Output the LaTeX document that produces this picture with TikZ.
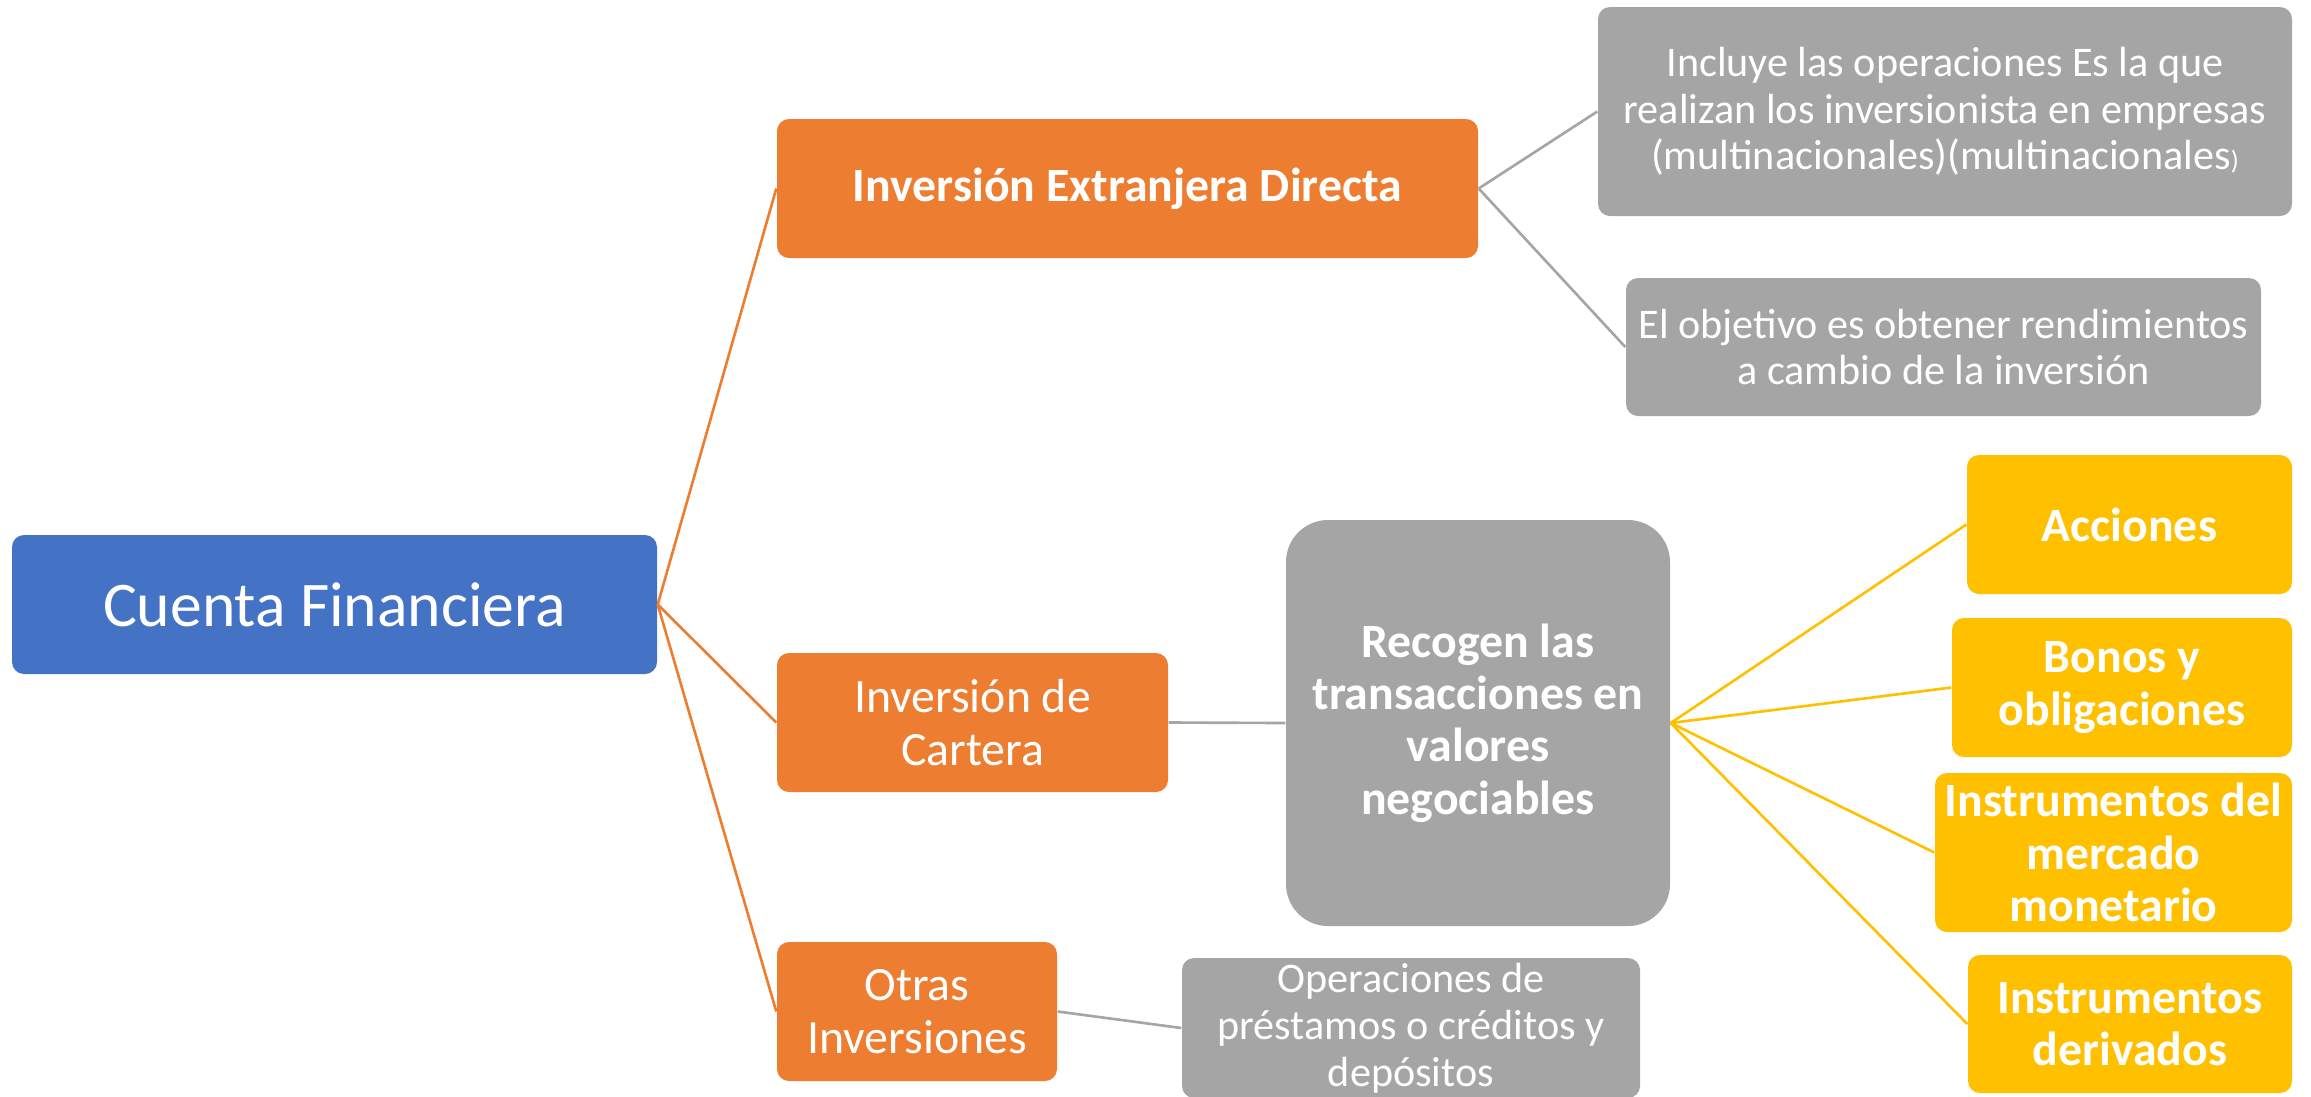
\documentclass[tikz,border=0pt]{standalone}
\usepackage{fontspec}
\setmainfont{Carlito}
\definecolor{azul}{HTML}{4472C4}
\definecolor{naranja}{HTML}{ED7D31}
\definecolor{gris}{HTML}{A5A5A5}
\definecolor{amarillo}{HTML}{FFC000}
\newcommand{\fgrande}{\fontsize{18.1}{21.8}\selectfont}
\newcommand{\fmedio}{\fontsize{13.6}{14.9}\selectfont}
\newcommand{\fchico}{\fontsize{12}{13.3}\selectfont}
\tikzset{
  caja/.style={rectangle, rounded corners=0.12cm, text=white, align=center, inner sep=1pt},
  raiz/.style={caja, fill=azul, font=\fgrande},
  rama/.style={caja, fill=naranja, font=\fmedio},
  nota/.style={caja, fill=gris, font=\fchico},
  hoja/.style={caja, fill=amarillo, font=\fmedio\bfseries},
  lazo/.style={line width=0.75pt}
}
\begin{document}
\begin{tikzpicture}
\useasboundingbox (0,0) rectangle (23.11,-10.96);
% raiz
\node[raiz, minimum width=6.45cm, minimum height=1.39cm] (cuenta) at (3.345,-6.045) {Cuenta Financiera};
% ramas
\node[rama, minimum width=7.01cm, minimum height=1.39cm, font=\fmedio\bfseries] (ied) at (11.275,-1.885) {Inversión Extranjera Directa};
\node[rama, minimum width=3.91cm, minimum height=1.39cm] (cartera) at (9.725,-7.225) {Inversión de\\Cartera};
\node[rama, minimum width=2.80cm, minimum height=1.39cm] (otras) at (9.17,-10.115) {Otras\\Inversiones};
% notas grises
\node[nota, minimum width=6.94cm, minimum height=2.09cm] (incluye) at (19.45,-1.115) {Incluye las operaciones Es la que\\realizan los inversionista en empresas\\(multinacionales)(multinacionales{\fontsize{7.5}{8}\selectfont)}};
\node[nota, minimum width=6.35cm, minimum height=1.38cm] (objetivo) at (19.435,-3.47) {El objetivo es obtener rendimientos\\a cambio de la inversión};
\node[nota, minimum width=3.84cm, minimum height=4.06cm, rounded corners=0.42cm, font=\fmedio\bfseries] (recogen) at (14.78,-7.23) {Recogen las\\transacciones en\\valores\\negociables};
\node[nota, minimum width=4.58cm, minimum height=1.40cm] (prestamos) at (14.11,-10.28) {Operaciones de\\préstamos o créditos y\\depósitos};
% hojas amarillas
\node[hoja, minimum width=3.25cm, minimum height=1.39cm] (acciones) at (21.295,-5.245) {Acciones};
\node[hoja, minimum width=3.40cm, minimum height=1.39cm] (bonos) at (21.22,-6.875) {Bonos y\\obligaciones};
\node[hoja, minimum width=3.57cm, minimum height=1.59cm] (monetario) at (21.135,-8.525) {Instrumentos del\\mercado\\monetario};
\node[hoja, minimum width=3.24cm, minimum height=1.38cm] (derivados) at (21.30,-10.24) {Instrumentos\\derivados};
% conectores
\draw[lazo, naranja] (cuenta.east) -- (ied.west);
\draw[lazo, naranja] (cuenta.east) -- (cartera.west);
\draw[lazo, naranja] (cuenta.east) -- (otras.west);
\draw[lazo, gris] (ied.east) -- (incluye.west);
\draw[lazo, gris] (ied.east) -- (objetivo.west);
\draw[lazo, gris] (cartera.east) -- (recogen.west);
\draw[lazo, gris] (otras.east) -- (prestamos.west);
\foreach \h in {acciones, bonos, monetario, derivados}
  \draw[lazo, amarillo] (recogen.east) -- (\h.west);
\end{tikzpicture}
\end{document}
